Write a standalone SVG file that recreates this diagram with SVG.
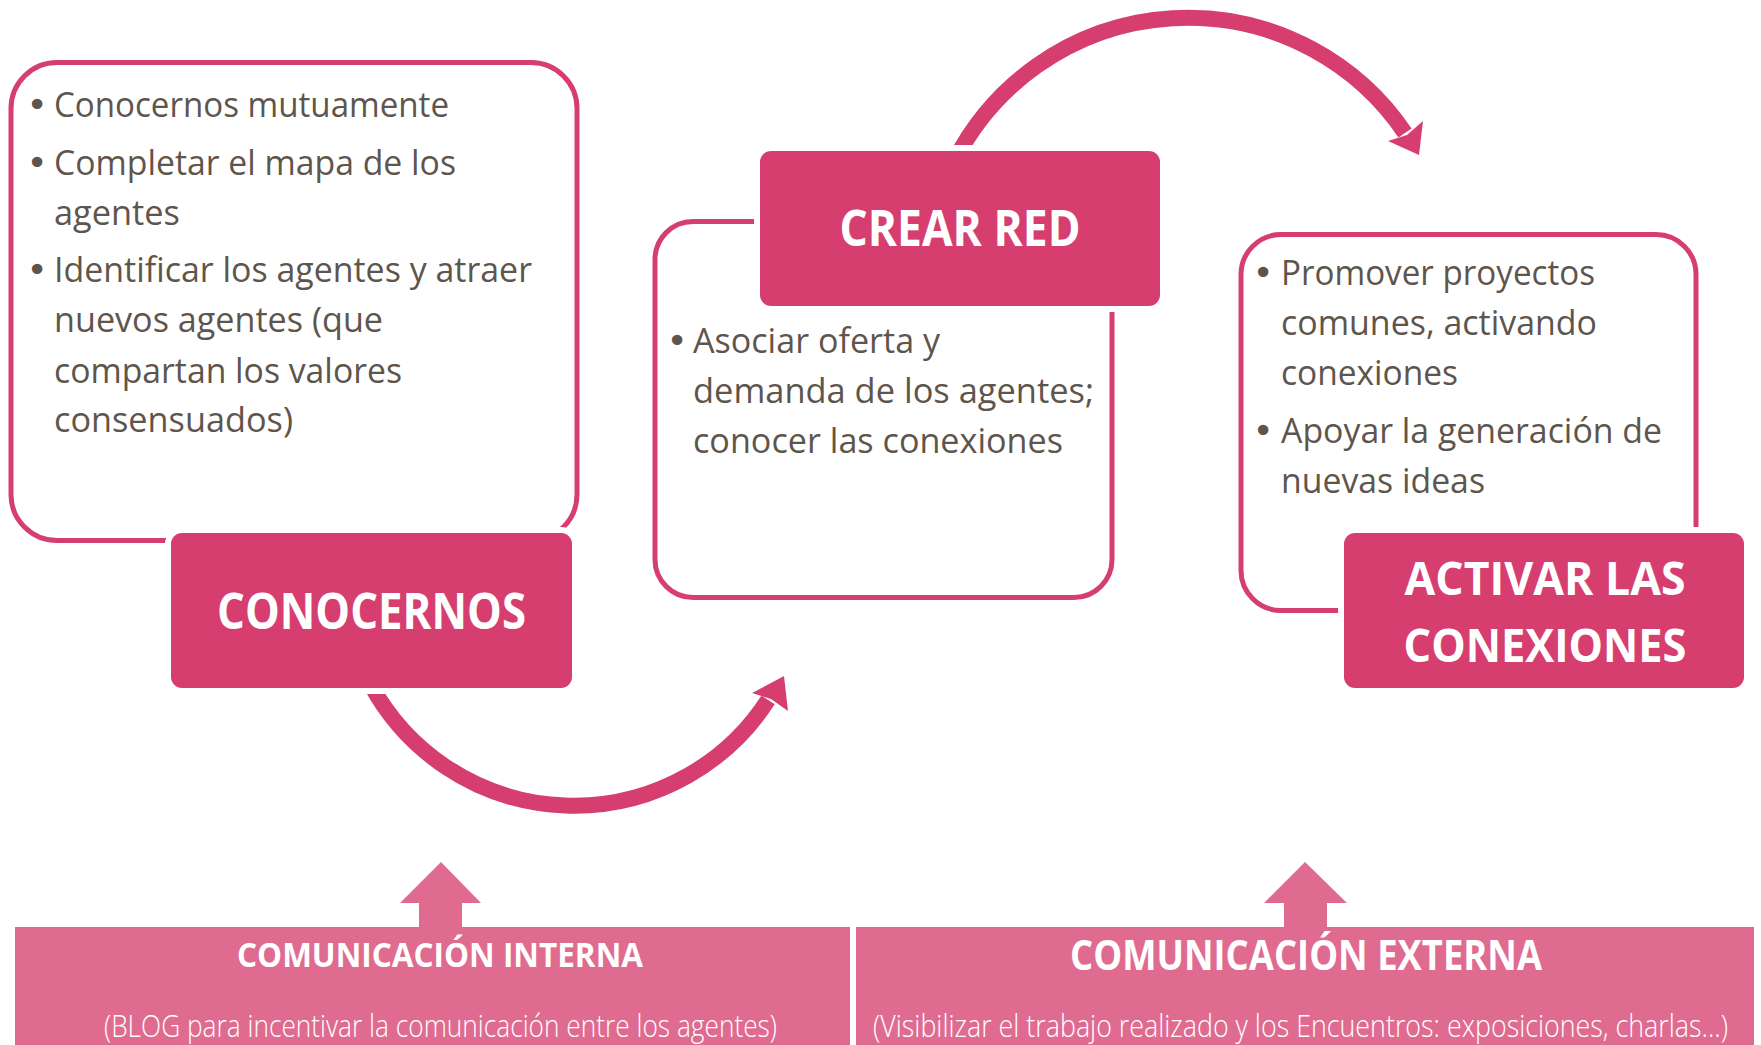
<svg xmlns="http://www.w3.org/2000/svg" width="1761" height="1045" viewBox="0 0 1761 1045">
<style>
.ol{fill:none;stroke:#D73E70;stroke-width:5}
.tb{fill:#D73E70;stroke:#fff;stroke-width:12;paint-order:stroke}
.tt{font-family:"Open Sans","Liberation Sans",sans-serif;font-weight:700;fill:#fff;text-anchor:middle}
.bt{font-family:"Open Sans","Liberation Sans",sans-serif;font-size:35px;fill:#5E554C}
.bu{font-family:"DejaVu Sans","Open Sans",sans-serif;font-size:36px;fill:#5E554C;text-anchor:middle}
.conn{fill:none;stroke:#D73E70;stroke-width:16}
.ah{fill:#D73E70}
.bar{fill:#E06B91}
.bh{font-family:"Open Sans","Liberation Sans",sans-serif;font-weight:700;fill:#fff;text-anchor:middle}
.bs{font-family:"Open Sans","Liberation Sans",sans-serif;font-weight:300;font-size:32px;fill:#fff;text-anchor:middle}
</style>
<rect width="1761" height="1045" fill="#fff"/>
<g id="connectors">
  <path class="conn" d="M 955 160 A 262 262 0 0 1 1405 133"/>
  <polygon class="ah" points="1419,155 1388,141 1407,135 1423,121"/>
  <path class="conn" d="M 371 685 A 231 231 0 0 0 768 700"/>
  <polygon class="ah" points="784,676 752,693 771,699 788,711"/>
</g>
<g id="box-conocernos">
  <rect class="ol" x="11" y="62.5" width="566" height="478" rx="46"/>
  <text class="bu" x="37" y="117">•</text>
  <text class="bt" x="54" y="117" textLength="395" lengthAdjust="spacingAndGlyphs">Conocernos mutuamente</text>
  <text class="bu" x="37" y="175">•</text>
  <text class="bt" x="54" y="175" textLength="402" lengthAdjust="spacingAndGlyphs">Completar el mapa de los</text>
  <text class="bt" x="54" y="225" textLength="126" lengthAdjust="spacingAndGlyphs">agentes</text>
  <text class="bu" x="37" y="282">•</text>
  <text class="bt" x="54" y="282" textLength="478" lengthAdjust="spacingAndGlyphs">Identificar los agentes y atraer</text>
  <text class="bt" x="54" y="332" textLength="329" lengthAdjust="spacingAndGlyphs">nuevos agentes (que</text>
  <text class="bt" x="54" y="383" textLength="348" lengthAdjust="spacingAndGlyphs">compartan los valores</text>
  <text class="bt" x="54" y="432" textLength="239" lengthAdjust="spacingAndGlyphs">consensuados)</text>
  <rect class="tb" x="171" y="533" width="401" height="155" rx="11"/>
  <text class="tt" x="371.5" y="629" font-size="50" textLength="309" lengthAdjust="spacingAndGlyphs">CONOCERNOS</text>
</g>
<g id="box-crear-red">
  <rect class="ol" x="655" y="221.5" width="457" height="376" rx="38"/>
  <text class="bu" x="677" y="353">•</text>
  <text class="bt" x="693" y="353" textLength="247" lengthAdjust="spacingAndGlyphs">Asociar oferta y</text>
  <text class="bt" x="693" y="403" textLength="401" lengthAdjust="spacingAndGlyphs">demanda de los agentes;</text>
  <text class="bt" x="693" y="453" textLength="370" lengthAdjust="spacingAndGlyphs">conocer las conexiones</text>
  <rect class="tb" x="760" y="151" width="400" height="155" rx="11"/>
  <text class="tt" x="960" y="246" font-size="50" textLength="241" lengthAdjust="spacingAndGlyphs">CREAR RED</text>
</g>
<g id="box-activar">
  <rect class="ol" x="1241" y="234.5" width="455" height="376" rx="40"/>
  <text class="bu" x="1263" y="285">•</text>
  <text class="bt" x="1281" y="285" textLength="314" lengthAdjust="spacingAndGlyphs">Promover proyectos</text>
  <text class="bt" x="1281" y="335" textLength="316" lengthAdjust="spacingAndGlyphs">comunes, activando</text>
  <text class="bt" x="1281" y="385" textLength="177" lengthAdjust="spacingAndGlyphs">conexiones</text>
  <text class="bu" x="1263" y="443">•</text>
  <text class="bt" x="1281" y="443" textLength="381" lengthAdjust="spacingAndGlyphs">Apoyar la generación de</text>
  <text class="bt" x="1281" y="493" textLength="204" lengthAdjust="spacingAndGlyphs">nuevas ideas</text>
  <rect class="tb" x="1344" y="533" width="400" height="155" rx="11"/>
  <text class="tt" x="1545" y="595" font-size="47" textLength="281" lengthAdjust="spacingAndGlyphs">ACTIVAR LAS</text>
  <text class="tt" x="1545" y="662" font-size="47" textLength="283" lengthAdjust="spacingAndGlyphs">CONEXIONES</text>
</g>
<g id="com-interna">
  <polygon class="bar" points="441,862 481,903 462,903 462,930 419,930 419,903 400,903"/>
  <rect class="bar" x="15" y="927" width="835" height="118"/>
  <text class="bh" x="440" y="967" font-size="34" textLength="406" lengthAdjust="spacingAndGlyphs">COMUNICACIÓN INTERNA</text>
  <text class="bs" x="440.5" y="1037" textLength="673" lengthAdjust="spacingAndGlyphs">(BLOG para incentivar la comunicación entre los agentes)</text>
</g>
<g id="com-externa">
  <polygon class="bar" points="1305,862 1347,903 1327,903 1327,930 1284,930 1284,903 1264,903"/>
  <rect class="bar" x="856" y="927" width="898" height="118"/>
  <text class="bh" x="1306" y="970" font-size="42" textLength="472" lengthAdjust="spacingAndGlyphs">COMUNICACIÓN EXTERNA</text>
  <text class="bs" x="1300.5" y="1037" font-size="31" textLength="855" lengthAdjust="spacingAndGlyphs">(Visibilizar el trabajo realizado y los Encuentros:  exposiciones, charlas...)</text>
</g>
</svg>
